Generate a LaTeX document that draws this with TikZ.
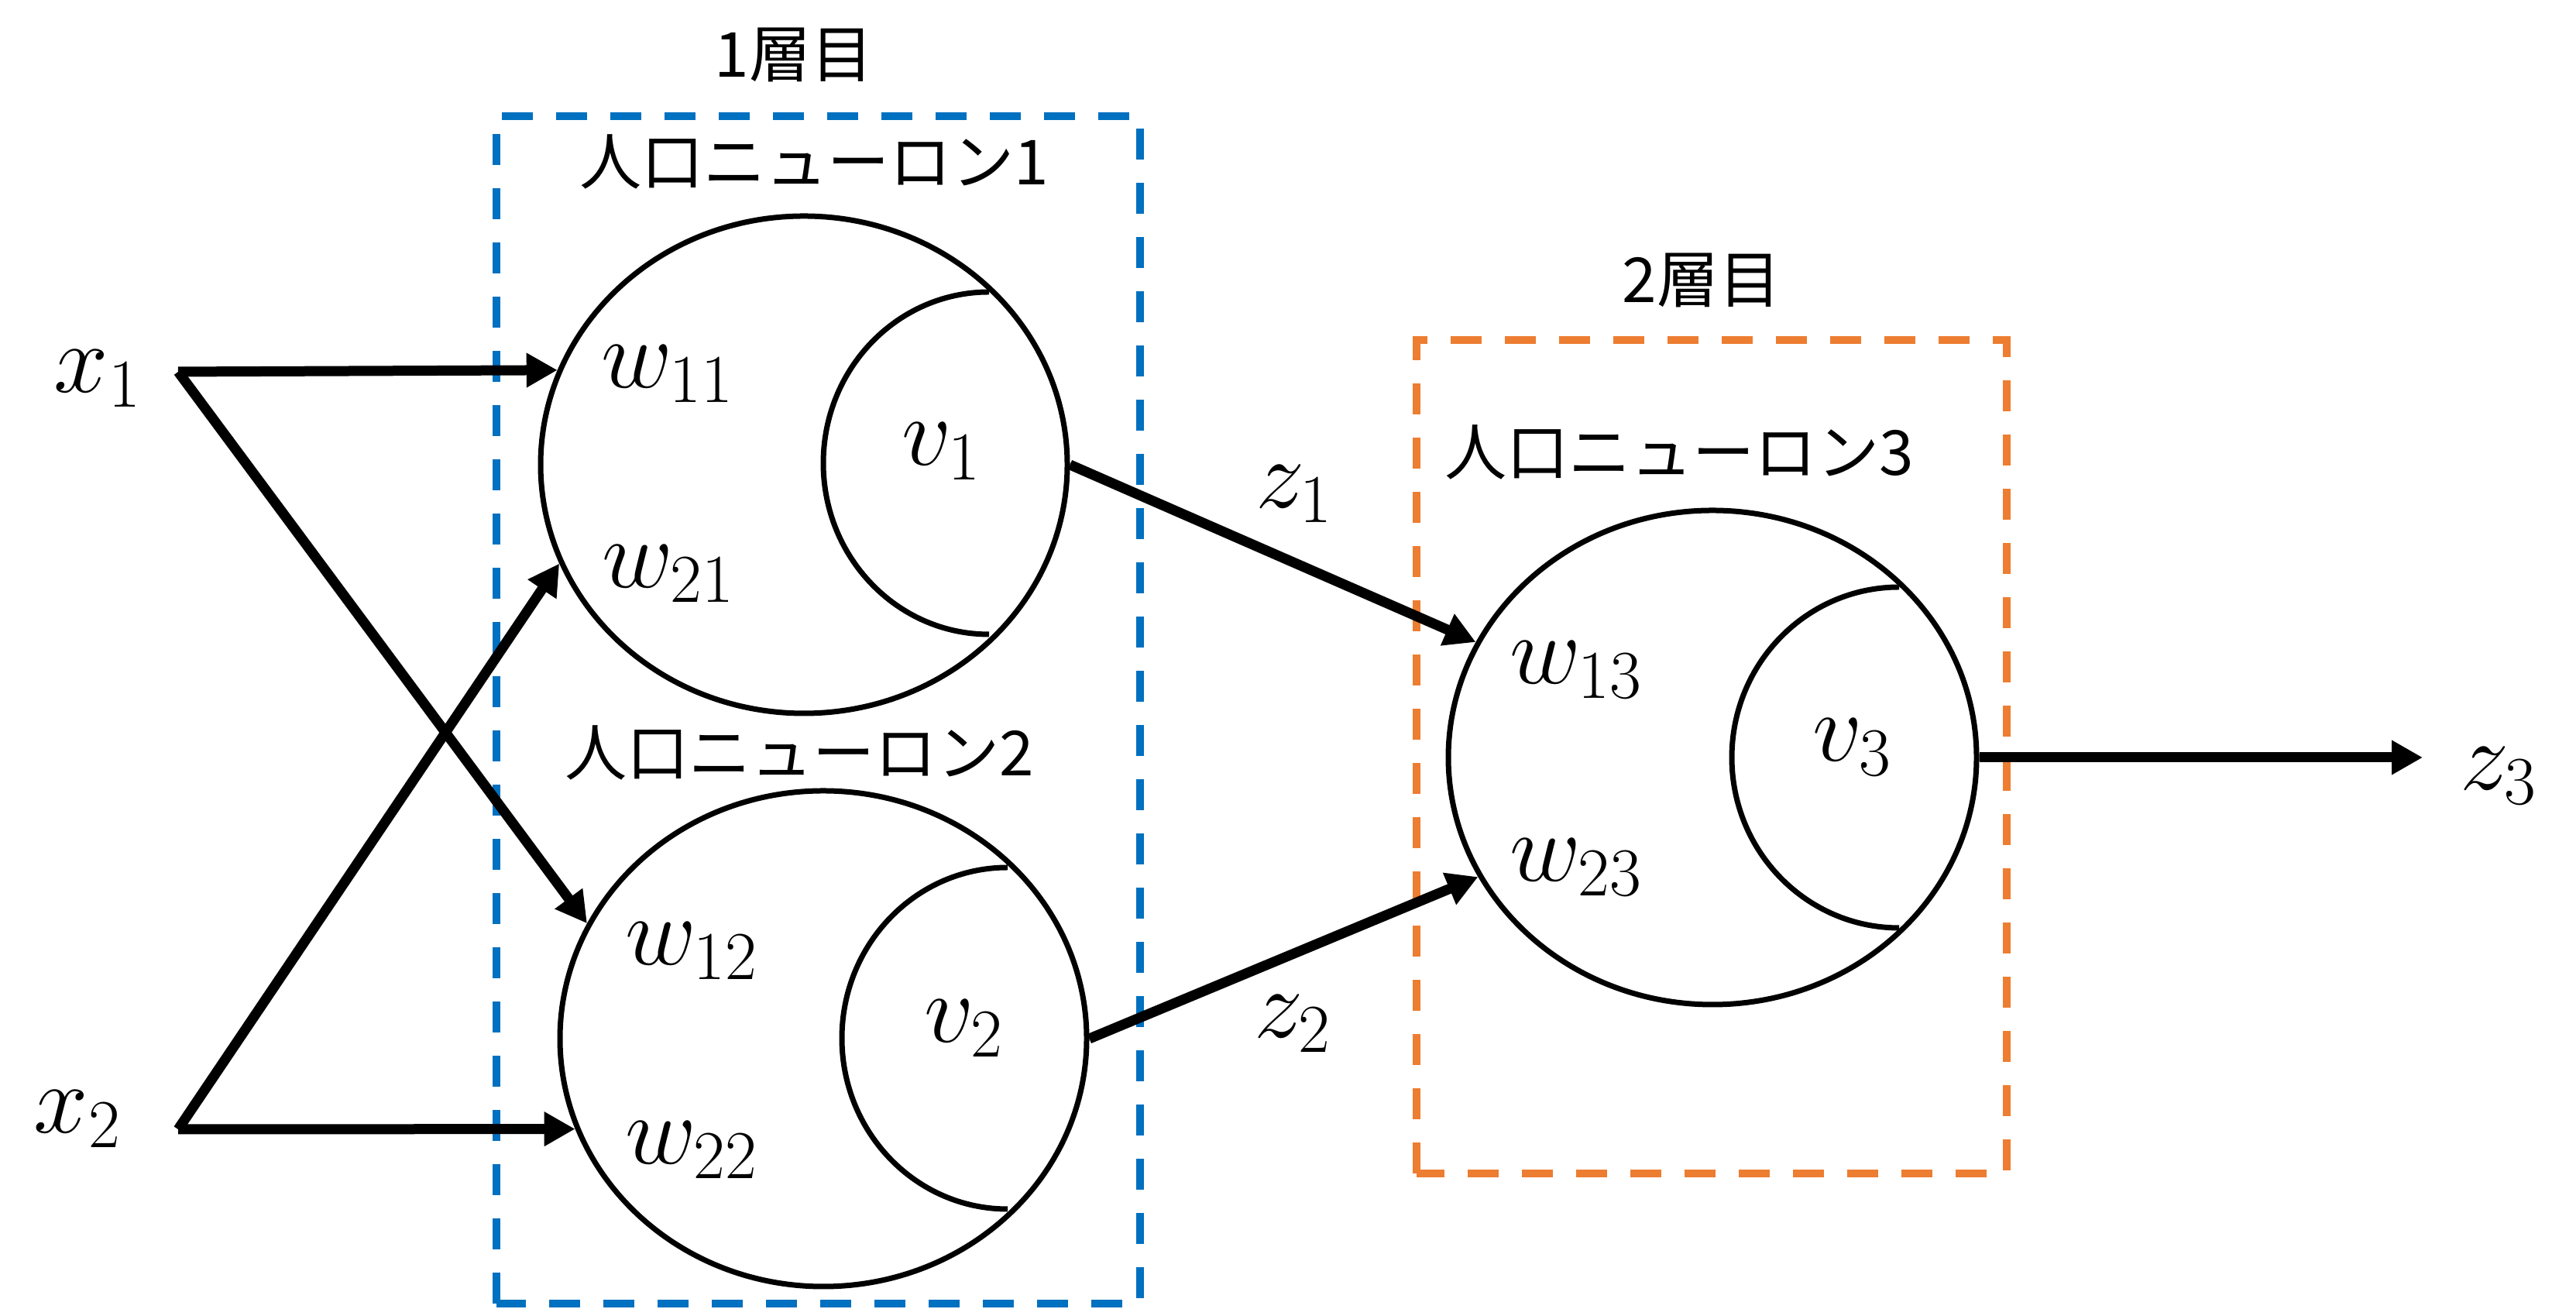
\documentclass[tikz,border=0pt]{standalone}
\usepackage{fix-cm}
\usepackage{fontspec}
\newfontfamily\jpfont{Noto Sans CJK JP}
\usetikzlibrary{arrows.meta,shapes.geometric}

\definecolor{boxblue}{HTML}{0070C0}
\definecolor{boxorange}{HTML}{ED7D31}

\tikzset{
    neuron/.style={draw, ellipse, line width=0.07cm, inner sep=0pt},
    syn/.style={line width=0.13cm, -{Triangle[length=0.4cm,width=0.42cm]}},
    layerbox/.style={line width=0.1cm, dash pattern=on 0.4cm off 0.3cm},
    jp/.style={font=\jpfont\fontsize{22.8}{27}\selectfont},
    mlabel/.style={font=\fontsize{36}{43}\selectfont, inner sep=0pt},
}

\begin{document}
\begin{tikzpicture}
        \useasboundingbox (0,0) rectangle (33.26,16.90);

        % 虚线框
        \draw[layerbox, color=boxblue] (6.41,0.07) rectangle (14.72,15.40);
        \draw[layerbox, color=boxorange] (18.29,1.75) rectangle (25.91,12.51);
        \node[jp] (l1) at (10.25,16.19) {1層目};
        \node[jp] (l2) at (21.97,13.28) {2層目};

        % 神经元
        \node[neuron, minimum width=6.8cm, minimum height=6.42cm] (n1) at (10.38,10.90) {};
        \node[neuron, minimum width=6.8cm, minimum height=6.40cm] (n2) at (10.63,3.49) {};
        \node[neuron, minimum width=6.82cm, minimum height=6.38cm] (n3) at (22.11,7.12) {};
        \draw[line width=0.07cm] (12.77,13.13) arc[start angle=90, end angle=270, x radius=2.14, y radius=2.21];
        \draw[line width=0.07cm] (13.01,5.70) arc[start angle=90, end angle=270, x radius=2.14, y radius=2.205];
        \draw[line width=0.07cm] (24.52,9.32) arc[start angle=90, end angle=270, x radius=2.16, y radius=2.2];
        \node[jp] (t1) at (10.51,14.81) {人口ニューロン1};
        \node[jp] (t2) at (10.32,7.18) {人口ニューロン2};
        \node[jp] (t3) at (21.68,11.06) {人口ニューロン3};

        % 记号
        \node[mlabel] (x1) at (1.26,12.01) {$x_1$};
        \node[mlabel] (x2) at (1.00,2.45) {$x_2$};
        \node[mlabel] (w11) at (8.62,12.07) {$w_{11}$};
        \node[mlabel] (w21) at (8.63,9.49) {$w_{21}$};
        \node[mlabel] (w12) at (8.93,4.62) {$w_{12}$};
        \node[mlabel] (w22) at (8.93,2.05) {$w_{22}$};
        \node[mlabel] (w13) at (20.35,8.25) {$w_{13}$};
        \node[mlabel] (w23) at (20.35,5.70) {$w_{23}$};
        \node[mlabel] (v1) at (12.16,11.07) {$v_1$};
        \node[mlabel] (v2) at (12.45,3.62) {$v_2$};
        \node[mlabel] (v3) at (23.92,7.25) {$v_3$};
        \node[mlabel] (z1) at (16.71,10.52) {$z_1$};
        \node[mlabel] (z2) at (16.69,3.68) {$z_2$};
        \node[mlabel] (z3) at (32.26,6.88) {$z_3$};

        % 箭头
        \coordinate (x1o) at (2.30,12.10);
        \coordinate (x2o) at (2.30,2.32);
        \coordinate (z3o) at (31.28,7.12);
        \draw[syn] (x1o) -- (n1.159);
        \draw[syn] (x1o) -- (n2.154);
        \draw[syn] (x2o) -- (n1.202);
        \draw[syn] (x2o) -- (n2.200);
        \draw[syn] (n1.east) -- (n3.154);
        \draw[syn] (n2.east) -- (n3.207);
        \draw[syn] (n3.east) -- (z3o);
    \end{tikzpicture}
\end{document}
